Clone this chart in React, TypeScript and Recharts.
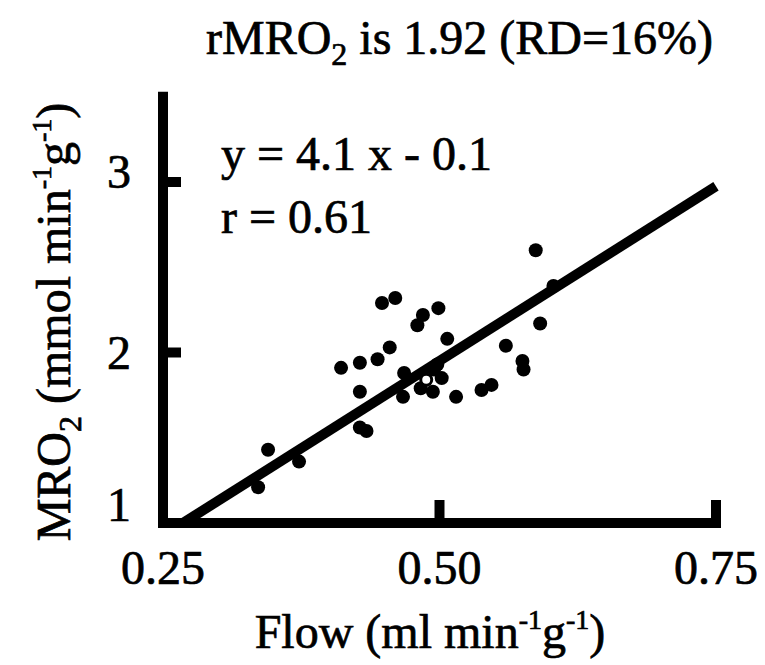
import React from "react";
import { ScatterChart, Scatter, XAxis, YAxis, ReferenceLine, Customized } from "recharts";

// Flow (ml min^-1 g^-1) and MRO2 (mmol min^-1 g^-1)
const flow = [0.587, 0.448, 0.460, 0.485, 0.480, 0.499, 0.507, 0.591, 0.455, 0.444, 0.428, 0.411, 0.560, 0.575, 0.576, 0.468, 0.498, 0.502, 0.495, 0.483, 0.494, 0.515, 0.538, 0.547, 0.467, 0.428, 0.428, 0.434, 0.345, 0.373, 0.336, 0.603];
const mro2 = [2.60, 2.29, 2.32, 2.22, 2.16, 2.26, 2.08, 2.17, 2.03, 1.96, 1.94, 1.91, 2.04, 1.95, 1.90, 1.88, 1.93, 1.85, 1.90, 1.79, 1.77, 1.74, 1.78, 1.81, 1.74, 1.77, 1.56, 1.54, 1.43, 1.36, 1.21, 2.39];
// one open (hollow) marker
const openFlow = [0.488];
const openMro2 = [1.84];
// regression line endpoints  (y = 4.1 x - 0.1)
const fitFlow = [0.268, 0.75];
const fitMro2 = [1.0, 2.975];

const xTicks = [0.25, 0.5, 0.75];
const xTickLabels = ["0.25", "0.50", "0.75"];
const yTicks = [1, 2, 3];
const yTickLabels = ["1", "2", "3"];

const points = flow.map((x, i) => ({ x, y: mro2[i] }));
const openPoints = openFlow.map((x, i) => ({ x, y: openMro2[i] }));
const fitSegment = fitFlow.map((x, i) => ({ x, y: fitMro2[i] }));

const FONT = '"Liberation Serif", "Times New Roman", Times, serif';
const TEXT_STROKE = 0.7;
const W = 757;
const H = 657;

const XTick = (props: any) => {
  const { x, y, payload } = props;
  const idx = xTicks.indexOf(payload.value);
  const label = idx >= 0 ? xTickLabels[idx] : String(payload.value);
  return (
    <g>
      {payload.value !== xTicks[0] && (
        <line x1={x} x2={x} y1={y} y2={y - 23} stroke="#000" strokeWidth={10} />
      )}
      <text x={x} y={y + 61} textAnchor="middle" fontFamily={FONT} fontSize={48} fill="#000" stroke="#000" strokeWidth={TEXT_STROKE}>
        {label}
      </text>
    </g>
  );
};

const yLabelShift: Record<number, number> = { 1: -18, 2: 0, 3: -10 };

const YTick = (props: any) => {
  const { x, y, payload } = props;
  const idx = yTicks.indexOf(payload.value);
  const label = idx >= 0 ? yTickLabels[idx] : String(payload.value);
  return (
    <g>
      {payload.value !== yTicks[0] && (
        <line x1={x} x2={x + 18} y1={y} y2={y} stroke="#000" strokeWidth={10} />
      )}
      <text x={x - 32} y={y + 16 + (yLabelShift[payload.value] || 0)} textAnchor="end" fontFamily={FONT} fontSize={48} fill="#000" stroke="#000" strokeWidth={TEXT_STROKE}>
        {label}
      </text>
    </g>
  );
};

const Dot = (props: any) => <circle cx={props.cx} cy={props.cy} r={7} fill="#000" />;
const OpenDot = (props: any) => (
  <circle cx={props.cx} cy={props.cy} r={5.5} fill="#fff" stroke="#000" strokeWidth={3} />
);

const Texts = () => (
  <g fontFamily={FONT} fill="#000" stroke="#000" strokeWidth={TEXT_STROKE}>
    <text x={451.5} y={46} textAnchor="middle" fontSize={48}>
      rMRO<tspan fontSize={32} dy={11}>2</tspan>
      <tspan dy={-11}> is 1.92 (RD=16%)</tspan>
    </text>
    <text x={213} y={162} fontSize={48}>y = 4.1 x - 0.1</text>
    <text x={213} y={225} fontSize={48}>r = 0.61</text>
    <text x={422} y={640} textAnchor="middle" fontSize={48}>
      Flow (ml min<tspan fontSize={28} dy={-19}>-1</tspan>
      <tspan dy={19}>g</tspan>
      <tspan fontSize={28} dy={-19}>-1</tspan>
      <tspan dy={19}>)</tspan>
    </text>
    <text x={62} y={314} textAnchor="middle" fontSize={48} transform="rotate(-90 62 314)">
      MRO<tspan fontSize={32} dy={11}>2</tspan>
      <tspan dy={-11}> (mmol min</tspan>
      <tspan fontSize={28} dy={-19}>-1</tspan>
      <tspan dy={19}>g</tspan>
      <tspan fontSize={28} dy={-19}>-1</tspan>
      <tspan dy={19}>)</tspan>
    </text>
  </g>
);

export default function App() {
  return (
    <ScatterChart width={W} height={H} margin={{ top: 88.75, right: 49, bottom: 0, left: 55 }}>
      <XAxis
        type="number"
        dataKey="x"
        domain={[0.25, 0.75]}
        ticks={xTicks}
        interval={0}
        height={142}
        tickSize={0}
        tickMargin={0}
        tickLine={false}
        axisLine={{ stroke: "#000", strokeWidth: 10, strokeLinecap: "square" }}
        tick={<XTick />}
        allowDataOverflow
      />
      <YAxis
        type="number"
        dataKey="y"
        domain={[1, 3.5]}
        ticks={yTicks}
        interval={0}
        width={100}
        tickSize={0}
        tickMargin={0}
        tickLine={false}
        axisLine={{ stroke: "#000", strokeWidth: 10, strokeLinecap: "square" }}
        tick={<YTick />}
        allowDataOverflow
      />
      <Scatter data={points} shape={<Dot />} isAnimationActive={false} />
      <ReferenceLine segment={fitSegment} stroke="#000" strokeWidth={10} ifOverflow="visible" />
      <Scatter data={openPoints} shape={<OpenDot />} isAnimationActive={false} />
      <Customized component={Texts} />
    </ScatterChart>
  );
}
